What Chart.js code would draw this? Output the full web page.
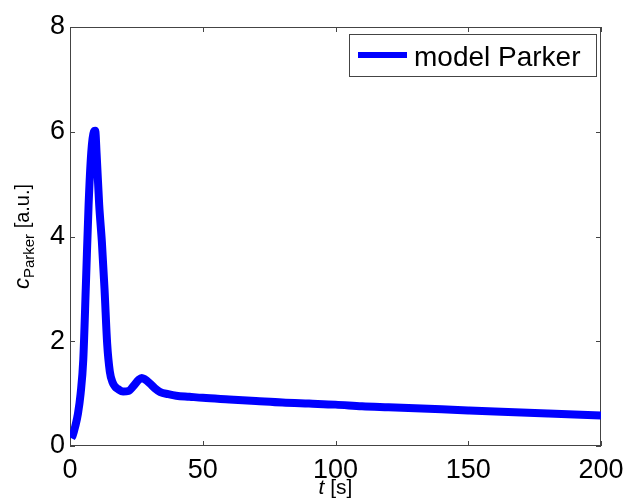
<!DOCTYPE html>
<html>
<head>
<meta charset="utf-8">
<script src="https://cdn.jsdelivr.net/npm/chart.js@4.4.1/dist/chart.umd.min.js"></script>
<style>
  html, body { margin: 0; padding: 0; background: #fff; }
  #wrap { width: 626px; height: 504px; }
</style>
</head>
<body>
<div id="wrap"><canvas id="c" width="626" height="504"></canvas></div>
<script>
// Time samples [s] and Parker model concentration [a.u.]
const timeS = [0.5, 1, 2, 3, 4, 5, 6, 7, 8, 9, 9.5, 10, 11, 12, 13, 14, 15, 16, 17, 18, 20, 22, 24, 26, 27, 28, 30, 32, 34, 37, 40, 45, 50, 60, 70, 80, 90, 100, 110, 120, 130, 140, 150, 160, 170, 180, 190, 200];
const cParker = [0.15, 0.2, 0.38, 0.62, 1.0, 1.65, 3.1, 4.6, 5.6, 6.0, 6.02, 5.6, 4.6, 3.9, 3.0, 1.95, 1.42, 1.22, 1.13, 1.09, 1.04, 1.05, 1.15, 1.27, 1.3, 1.28, 1.2, 1.1, 1.03, 0.99, 0.96, 0.94, 0.92, 0.89, 0.86, 0.83, 0.81, 0.79, 0.76, 0.74, 0.72, 0.70, 0.68, 0.66, 0.64, 0.62, 0.60, 0.58];
const seriesLabel = 'model Parker';
const xTicks = [0, 50, 100, 150, 200];
const yTicks = [0, 2, 4, 6, 8];

const FONT = '"Liberation Sans", Arial, sans-serif';
const AXIS_COLOR = '#444';

// Axes box with inward ticks on all four sides, axis titles and legend
const boxPlugin = {
  id: 'boxTicks',
  beforeDatasetsDraw(chart) {
    const { ctx, chartArea: a, scales } = chart;
    ctx.save();
    ctx.strokeStyle = AXIS_COLOR;
    ctx.lineWidth = 1;
    ctx.strokeRect(a.left + 0.5, a.top + 0.5, a.right - a.left - 1, a.bottom - a.top - 1);
    const L = 5;
    ctx.beginPath();
    xTicks.forEach(v => {
      const x = Math.round(scales.x.getPixelForValue(v)) + 0.5;
      ctx.moveTo(x, a.bottom); ctx.lineTo(x, a.bottom - L);
      ctx.moveTo(x, a.top); ctx.lineTo(x, a.top + L);
    });
    yTicks.forEach(v => {
      const y = Math.round(scales.y.getPixelForValue(v)) + 0.5;
      ctx.moveTo(a.left, y); ctx.lineTo(a.left + L, y);
      ctx.moveTo(a.right, y); ctx.lineTo(a.right - L, y);
    });
    ctx.stroke();
    ctx.restore();
  },
  afterDraw(chart) {
    const { ctx, chartArea: a } = chart;
    ctx.save();
    ctx.fillStyle = '#000';
    ctx.textBaseline = 'alphabetic';

    // x axis title: italic t followed by unit
    const cx = (a.left + a.right) / 2;
    ctx.font = 'italic 21px ' + FONT;
    const tW = ctx.measureText('t').width;
    ctx.font = '21px ' + FONT;
    const uW = ctx.measureText(' [s]').width;
    let x0 = cx - (tW + uW) / 2;
    ctx.font = 'italic 21px ' + FONT;
    ctx.fillText('t', x0, 494);
    ctx.font = '21px ' + FONT;
    ctx.fillText(' [s]', x0 + tW, 494);

    // y axis title: c with subscript, rotated
    ctx.translate(29, (a.top + a.bottom) / 2);
    ctx.rotate(-Math.PI / 2);
    ctx.font = 'italic 22px ' + FONT;
    const cW = ctx.measureText('c').width;
    ctx.font = '15px ' + FONT;
    const sW = ctx.measureText('Parker').width;
    ctx.font = '20px ' + FONT;
    const bW = ctx.measureText(' [a.u.]').width;
    let s = -(cW + sW + bW) / 2;
    ctx.font = 'italic 22px ' + FONT;
    ctx.fillText('c', s, 0);
    ctx.font = '15px ' + FONT;
    ctx.fillText('Parker', s + cW, 5);
    ctx.font = '20px ' + FONT;
    ctx.fillText(' [a.u.]', s + cW + sW, 0);
    ctx.restore();

    // legend box in the upper right corner of the plot
    ctx.save();
    const ds = chart.data.datasets[0];
    const bx = 349, by = 34, bw = 247, bh = 42;
    ctx.fillStyle = '#fff';
    ctx.fillRect(bx, by, bw, bh);
    ctx.strokeStyle = AXIS_COLOR;
    ctx.lineWidth = 1;
    ctx.strokeRect(bx + 0.5, by + 0.5, bw, bh);
    ctx.strokeStyle = ds.borderColor;
    ctx.lineWidth = 6;
    ctx.beginPath();
    ctx.moveTo(358, 55); ctx.lineTo(407, 55);
    ctx.stroke();
    ctx.fillStyle = '#000';
    ctx.font = '28px ' + FONT;
    ctx.textBaseline = 'alphabetic';
    ctx.fillText(ds.label, 414, 66);
    ctx.restore();
  }
};

new Chart(document.getElementById('c'), {
  type: 'line',
  data: {
    datasets: [{
      label: seriesLabel,
      data: timeS.map((t, i) => ({ x: t, y: cParker[i] })),
      borderColor: '#0000ff',
      backgroundColor: '#0000ff',
      borderWidth: 8,
      pointRadius: 0,
      cubicInterpolationMode: 'monotone',
      fill: false
    }]
  },
  options: {
    responsive: false,
    animation: false,
    layout: { padding: { top: 27, right: 0, left: 0, bottom: 0 } },
    plugins: { legend: { display: false }, tooltip: { enabled: false } },
    scales: {
      x: {
        type: 'linear', min: 0, max: 200,
        afterBuildTicks: s => { s.ticks = xTicks.map(v => ({ value: v })); },
        afterFit: s => { s.height = 58; s.paddingRight = 25; },
        grid: { display: false, drawTicks: false },
        border: { display: false },
        ticks: { color: '#000', font: { family: FONT, size: 27 }, padding: 8, maxRotation: 0 }
      },
      y: {
        type: 'linear', min: 0, max: 8,
        afterBuildTicks: s => { s.ticks = yTicks.map(v => ({ value: v })); },
        afterFit: s => { s.width = 70; },
        grid: { display: false, drawTicks: false },
        border: { display: false },
        ticks: { color: '#000', font: { family: FONT, size: 27 }, padding: 5 }
      }
    }
  },
  plugins: [boxPlugin]
});
</script>
</body>
</html>
